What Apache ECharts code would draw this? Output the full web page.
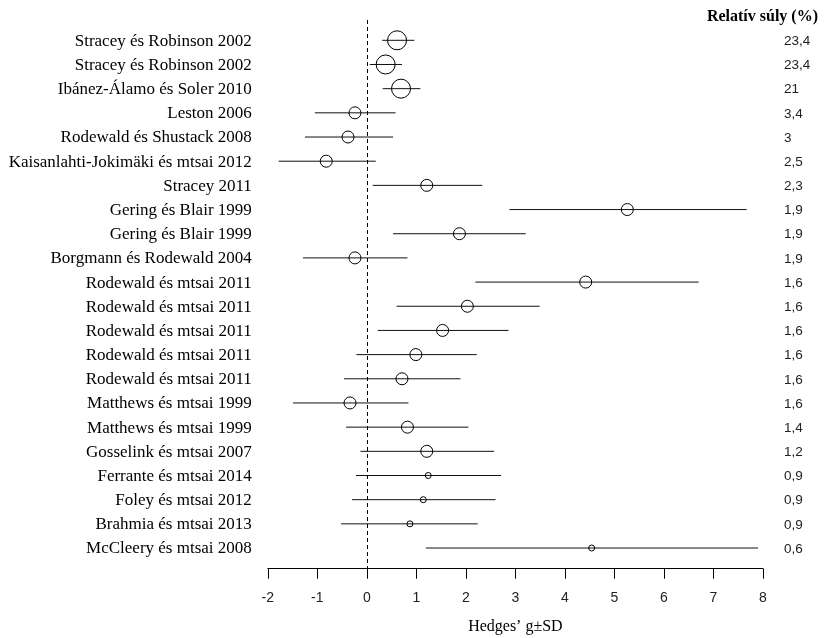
<!DOCTYPE html>
<html>
<head>
<meta charset="utf-8">
<script src="https://cdn.jsdelivr.net/npm/echarts@6/dist/echarts.min.js"></script>
<style>html,body{margin:0;padding:0;background:#fff}#c{width:825px;height:638px}</style>
</head>
<body>
<div id="c"></div>
<script>
var studies = [
  'Stracey és Robinson 2002','Stracey és Robinson 2002','Ibánez-Álamo és Soler 2010','Leston 2006',
  'Rodewald és Shustack 2008','Kaisanlahti-Jokimäki és mtsai 2012','Stracey 2011','Gering és Blair 1999',
  'Gering és Blair 1999','Borgmann és Rodewald 2004','Rodewald és mtsai 2011','Rodewald és mtsai 2011',
  'Rodewald és mtsai 2011','Rodewald és mtsai 2011','Rodewald és mtsai 2011','Matthews és mtsai 1999',
  'Matthews és mtsai 1999','Gosselink és mtsai 2007','Ferrante és mtsai 2014','Foley és mtsai 2012',
  'Brahmia és mtsai 2013','McCleery és mtsai 2008'
];
var effect = [0.61,0.38,0.69,-0.24,-0.38,-0.82,1.21,5.26,1.87,-0.24,4.42,2.03,1.53,0.99,0.71,-0.34,0.82,1.21,1.24,1.14,0.87,4.54];
var lower  = [0.31,0.06,0.32,-1.05,-1.25,-1.78,0.12,2.88,0.53,-1.29,2.19,0.60,0.22,-0.21,-0.46,-1.49,-0.42,-0.13,-0.22,-0.30,-0.52,1.19];
var upper  = [0.96,0.71,1.08,0.58,0.53,0.18,2.33,7.67,3.21,0.82,6.70,3.49,2.86,2.22,1.89,0.84,2.05,2.57,2.71,2.60,2.24,7.90];
var weights = [23.4,23.4,21,3.4,3,2.5,2.3,1.9,1.9,1.9,1.6,1.6,1.6,1.6,1.6,1.6,1.4,1.2,0.9,0.9,0.9,0.6];
var xTicks = [-2,-1,0,1,2,3,4,5,6,7,8];

function sizeFor(w){ return w >= 10 ? 19 : (w >= 1 ? 12 : 6); }

var data = studies.map(function(s, i){ return [effect[i], i + 1, lower[i], upper[i], weights[i]]; });

var chart = echarts.init(document.getElementById('c'), null, {renderer:'canvas'});
chart.setOption({
  animation: false,
  title: {
    text: 'Relatív súly (%)', right: 2, top: 4,
    textStyle: {fontFamily: '"Liberation Serif", serif', fontSize: 16, fontWeight: 'bold', color: '#000'}
  },
  grid: {left: 267.8, right: 62, top: 20, bottom: 69.3, containLabel: false, outerBoundsMode: 'none'},
  xAxis: {
    type: 'value', min: xTicks[0], max: xTicks[xTicks.length-1], interval: 1,
    splitLine: {show: false},
    axisLine: {show: true, lineStyle: {color: '#000', width: 1}},
    axisTick: {show: true, length: 10, lineStyle: {color: '#000'}},
    axisLabel: {margin: 22, color: '#222', fontFamily: '"Liberation Sans", Arial, sans-serif', fontSize: 14},
    name: 'Hedges\u2019 g\u00b1SD', nameLocation: 'middle', nameGap: 50,
    nameTextStyle: {fontFamily: '"Liberation Serif", serif', fontSize: 16, color: '#000'}
  },
  yAxis: {
    type: 'value', inverse: true, min: 0.16, max: 22.855, show: false
  },
  series: [{
    type: 'custom',
    data: data,
    encode: {x: [0, 2, 3], y: 1},
    clip: false,
    renderItem: function(params, api){
      var row = api.value(1);
      var c = api.coord([api.value(0), row]);
      var l = api.coord([api.value(2), row]);
      var h = api.coord([api.value(3), row]);
      var w = api.value(4);
      var r = sizeFor(w) / 2;
      var left = api.coord([-2, row]);
      var right = api.coord([8, row]);
      return {
        type: 'group',
        children: [
          {type: 'line', shape: {x1: l[0], y1: l[1], x2: h[0], y2: h[1]}, style: {stroke: '#111', lineWidth: 1}},
          {type: 'circle', shape: {cx: c[0], cy: c[1], r: r}, style: {stroke: '#000', lineWidth: 1, fill: null}},
          {type: 'text', style: {text: studies[params.dataIndex], x: left[0] - 16, y: left[1] + 1, align: 'right', verticalAlign: 'middle',
            font: '17px "Liberation Serif", serif', fill: '#000'}},
          {type: 'text', style: {text: String(w).replace('.', ','), x: right[0] + 21, y: right[1] + 1, align: 'left', verticalAlign: 'middle',
            font: '13.5px "Liberation Sans", Arial, sans-serif', fill: '#222'}}
        ]
      };
    },
    markLine: {
      silent: true, symbol: 'none', label: {show: false},
      lineStyle: {color: '#000', type: [4, 3], width: 1},
      data: [{xAxis: 0}]
    }
  }]
});
</script>
</body>
</html>
